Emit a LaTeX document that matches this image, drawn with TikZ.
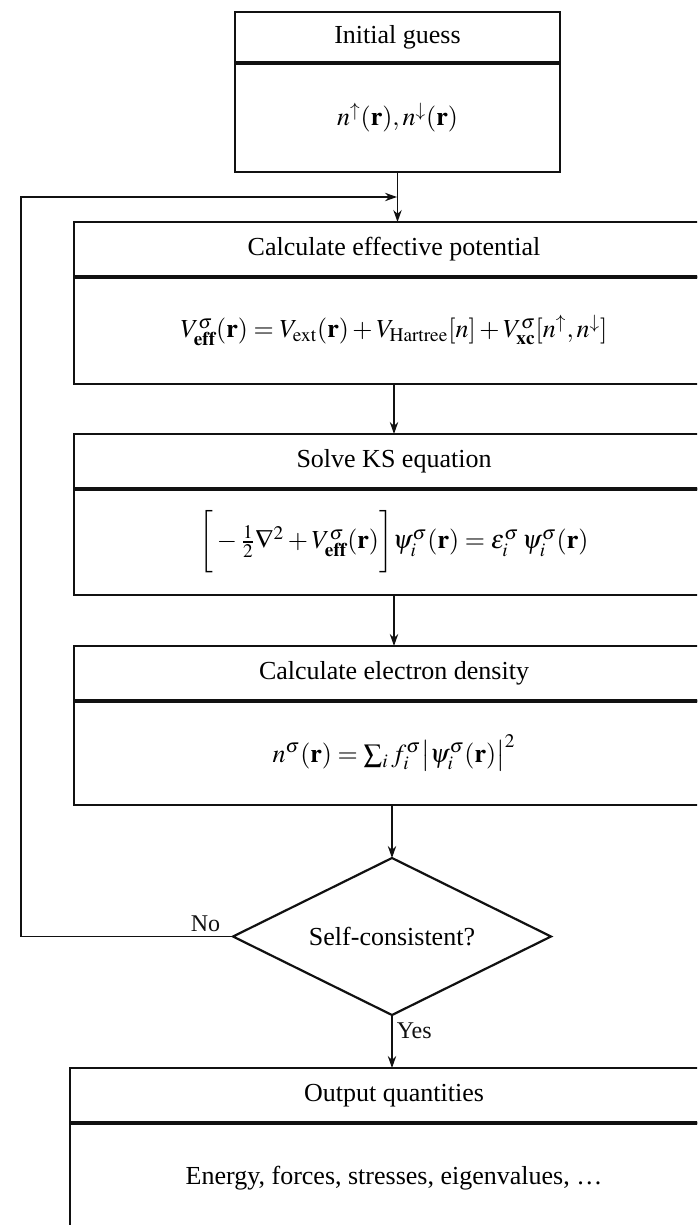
\documentclass[tikz,border=0pt]{standalone}
\usepackage{mathptmx}
\usepackage{fontspec}
\setmainfont{Liberation Serif}
\usetikzlibrary{arrows.meta,positioning,shapes.geometric}
\definecolor{ink}{HTML}{111111}
\tikzset{
  head/.style={
    draw=ink,
    line width=1.1pt,
    outer sep=0pt,
    minimum width=320pt,
    minimum height=27.5pt,
    inner sep=0pt,
    font=\fontsize{13}{15.5}\selectfont
  },
  body/.style={
    draw=ink,
    line width=1.1pt,
    outer sep=0pt,
    minimum width=320pt,
    minimum height=53.5pt,
    inner sep=0pt,
    font=\fontsize{13}{15.5}\selectfont
  },
  divider/.style={draw=ink, line width=2pt},
  decision/.style={
    diamond,
    draw=ink,
    line width=1.1pt,
    outer sep=0pt,
    aspect=2,
    minimum width=159pt,
    minimum height=78.5pt,
    inner sep=0pt,
    font=\fontsize{13}{15.5}\selectfont
  },
  flow/.style={-{Stealth[length=6pt,width=4.2pt]}, line width=0.75pt, draw=ink},
  note/.style={font=\fontsize{12}{14}\selectfont, text=ink, inner sep=2pt}
}

\begin{document}
\begin{tikzpicture}[x=0.5pt, y=-0.5pt, node distance=25pt]
\useasboundingbox (0,0) rectangle (697,1225);
\clip (0,0) rectangle (697,1225);

% Start
\node[head, minimum width=162.5pt, minimum height=25.5pt] (inithead) at (397.5,37.5) {Initial guess};
\node[body, minimum width=162.5pt, minimum height=54.5pt, below=0pt of inithead] (init) {$n^{\uparrow}(\mathbf{r}), n^{\downarrow}(\mathbf{r})$};

% SCF loop
\node[head, below=25pt of init, xshift=-1.75pt] (pothead) {Calculate effective potential};
\node[body, below=0pt of pothead] (pot) {$V^{\sigma}_{\mathbf{eff}}(\mathbf{r}) = V_{\mathrm{ext}}(\mathbf{r}) + V_{\mathrm{Hartree}}[n] + V^{\sigma}_{\mathbf{xc}}[n^{\uparrow}, n^{\downarrow}]$};
\node[head, below=25pt of pot] (kshead) {Solve KS equation};
\node[body, minimum height=53pt, below=0pt of kshead] (ks) {$\bigg[-\frac{1}{2}\nabla^2 + V^{\sigma}_{\mathbf{eff}}(\mathbf{r})\bigg]\psi^{\sigma}_i(\mathbf{r}) = \varepsilon^{\sigma}_i\,\psi^{\sigma}_i(\mathbf{r})$};
\node[head, below=25.5pt of ks] (denshead) {Calculate electron density};
\node[body, minimum height=52pt, below=0pt of denshead] (dens) {$n^{\sigma}(\mathbf{r}) = \sum_i f^{\sigma}_i \big|\psi^{\sigma}_i(\mathbf{r})\big|^2$};

% Check and output
\node[decision, below=26.5pt of dens, xshift=-1pt] (check) {Self-consistent?};
\node[head, minimum width=324pt, below=26.5pt of check, xshift=1pt] (outhead) {Output quantities};
\node[body, minimum width=324pt, minimum height=55pt, below=0pt of outhead] (out) {Energy, forces, stresses, eigenvalues, \ldots};

\coordinate (loopin) at (397,197);
\coordinate (loopleft) at (21,197);

% Dividers
\foreach \h in {inithead,pothead,kshead,denshead,outhead}
  \draw[divider] (\h.south west) -- (\h.south east);

% Arrows
\draw[flow] (init) -- (init |- pothead.north);
\draw[flow] (pot) -- (kshead);
\draw[flow] (ks) -- (denshead);
\draw[flow] (dens.south -| check.north) -- (check.north);
\draw[flow] (check.south) -- node[note, right, pos=0.3] {Yes} (check.south |- outhead.north);
\draw[flow] (check.west) -- node[note, above, pos=0.13] {No} (check.west -| loopleft) -- (loopleft) -- (loopin);

\end{tikzpicture}
\end{document}
